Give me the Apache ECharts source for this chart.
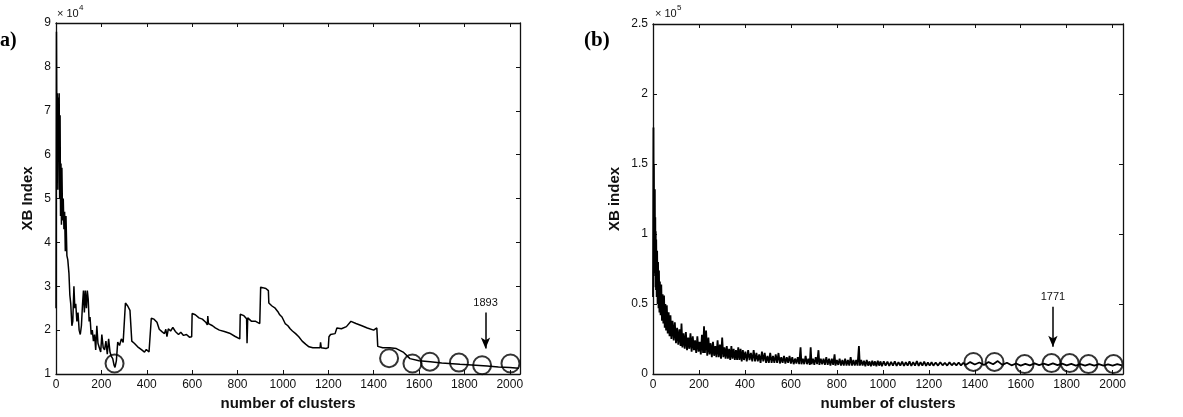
<!DOCTYPE html>
<html lang="en">
  <head>
    <meta charset="UTF-8" />
    <title>XB index vs number of clusters</title>
    <style>
      html, body { margin: 0; padding: 0; background: #fff; }
      #main { width: 1183px; height: 417px; }
    </style>
  </head>
  <body>
    <div id="main"></div>
    <script src="https://cdn.jsdelivr.net/npm/echarts@6/dist/echarts.min.js"></script>
    <script>
    // (a) XB Index, values in units of 10^4
    var xsA = [0, 2, 4, 6, 8, 10, 12, 14, 16, 18, 20, 22, 24, 26, 29, 32, 35, 38, 41, 44, 48, 52, 57, 61, 65, 70, 74, 79, 83, 87,
      92, 97, 102, 107, 112, 117, 121, 125, 129, 134, 138, 142, 146, 150, 155, 160, 165, 170, 175, 180, 185, 191, 197, 202, 208,
      214, 220, 226, 232, 238, 244, 250, 256, 260, 266, 272, 280, 288, 296, 304, 306, 316, 326, 332, 334, 345, 360, 378, 390, 398,
      410, 418, 420, 432, 445, 455, 468, 478, 484, 489, 495, 505, 515, 526, 540, 550, 562, 575, 588, 598, 600, 614, 630, 645, 660,
      667, 669, 672, 690, 702, 720, 742, 765, 788, 810, 812, 828, 840, 842, 845, 862, 880, 898, 902, 925, 936, 938, 952, 966, 978,
      986, 996, 1010, 1022, 1032, 1042, 1056, 1070, 1085, 1100, 1115, 1132, 1150, 1164, 1166, 1169, 1190, 1200, 1203, 1210, 1216,
      1230, 1238, 1258, 1280, 1300, 1322, 1348, 1372, 1400, 1414, 1418, 1440, 1470, 1500, 1530, 1560, 1600, 1650, 1700, 1780,
      1850, 1900, 1950, 2000, 2040];
    var ysA = [2.5, 8.8, 6.0, 7.4, 5.2, 7.3, 6.6, 7.4, 5.0, 6.9, 4.6, 5.8, 4.4, 5.7, 4.5, 5.0, 4.3, 4.7, 3.8, 4.6, 3.7, 3.6, 3.3, 2.8, 2.6, 2.1, 2.2, 3.0, 2.5, 2.6,
      2.2, 2.4, 2.0, 1.9, 2.1, 2.6, 2.9, 2.4, 2.9, 2.5, 2.9, 2.7, 2.2, 2.3, 1.9, 2.0, 1.75, 1.9, 1.55, 2.1, 1.7, 1.6, 1.5, 1.9, 1.6,
      1.55, 1.75, 1.45, 1.8, 1.5, 1.4, 1.35, 1.2, 1.15, 1.3, 1.73, 1.65, 1.8, 1.72, 1.75, 2.62, 2.55, 2.45, 2.42, 1.75, 1.7, 1.62, 1.55, 1.5, 1.56,
      1.5, 1.52, 2.27, 2.25, 2.18, 2.02, 1.96, 1.92, 2.02, 1.85, 2.03, 1.98, 2.06, 1.97, 1.9, 1.95, 1.88, 1.9, 1.84, 1.85, 2.38, 2.35, 2.28, 2.25, 2.18,
      2.12, 2.32, 2.15, 2.1, 2.05, 2.0, 1.97, 1.93, 1.86, 1.8, 2.36, 2.33, 2.26, 1.7, 2.28, 2.2, 2.2, 2.15, 2.98, 2.95, 2.9, 2.62, 2.55, 2.5, 2.42,
      2.35, 2.3, 2.15, 2.1, 2.03, 1.98, 1.92, 1.85, 1.75, 1.68, 1.62, 1.6, 1.6, 1.6, 1.72, 1.6, 1.58, 1.6, 1.85, 1.9, 1.88,
      1.92, 2.05, 2.03, 2.08, 2.2, 2.15, 2.1, 2.05, 2.0, 2.05, 1.63, 1.6, 1.6, 1.58, 1.5, 1.35, 1.3, 1.28, 1.25, 1.22,
      1.2, 1.18, 1.16, 1.15, 1.13];
    var circleXA = [258, 1468, 1571, 1648, 1776, 1878, 2003];
    var circleYA = [1.24, 1.36, 1.24, 1.28, 1.26, 1.2, 1.24];
    var pickA = 1893;

    // (b) XB index, values in units of 10^5
    var xsB = [0, 2, 3, 4, 5, 6, 7, 8, 9, 10, 11, 12, 13, 14, 16, 18, 20, 22, 24, 26, 28, 30, 33, 36, 39, 42, 45, 48, 51, 54, 57, 60,
      64, 68, 72, 76, 80, 85, 90, 95, 100, 105, 110, 115, 120, 124, 128, 133, 138, 143, 148, 153, 158, 163, 168, 173, 178, 183, 188,
      193, 198, 203, 208, 213, 218, 222, 226, 231, 236, 241, 246, 251, 256, 261, 266, 271, 276, 281, 286, 291, 296, 301, 306, 311,
      316, 321, 326, 331, 336, 341, 346, 351, 356, 361, 366, 371, 376, 381, 386, 391, 396, 402, 408, 414, 420, 426, 432, 438, 444,
      450, 456, 462, 468, 474, 480, 486, 492, 498, 504, 510, 516, 522, 528, 534, 540, 546, 552, 558, 564, 570, 576, 582, 588, 594,
      600, 606, 612, 618, 624, 630, 636, 642, 646, 652, 658, 664, 670, 676, 682, 686, 690, 696, 702, 708, 714, 720, 724, 730, 736,
      742, 748, 754, 760, 766, 772, 778, 784, 790, 794, 800, 806, 812, 818, 824, 830, 836, 842, 848, 854, 860, 866, 872, 878, 884,
      890, 896, 900, 906, 912, 918, 924, 930, 936, 942, 948, 954, 960, 966, 972, 978, 984, 990, 996, 1004, 1012, 1020, 1028, 1036,
      1044, 1052, 1060, 1068, 1076, 1084, 1092, 1100, 1108, 1116, 1124, 1132, 1140, 1148, 1156, 1164, 1172, 1180, 1188, 1196, 1204,
      1212, 1220, 1230, 1240, 1250, 1260, 1270, 1280, 1290, 1300, 1310, 1320, 1330, 1340, 1350, 1360, 1380, 1400, 1420, 1440, 1460,
      1480, 1500, 1520, 1540, 1560, 1580, 1600, 1620, 1640, 1660, 1680, 1700, 1720, 1740, 1760, 1780, 1800, 1820, 1840, 1860, 1880,
      1900, 1920, 1940, 1960, 1980, 2000, 2020, 2040];
    var ysB = [0.55, 1.76, 0.85, 1.5, 0.8, 1.26, 0.72, 1.32, 0.7, 1.12, 0.62, 1.02, 0.6, 0.96, 0.55, 0.88, 0.5, 0.8, 0.47, 0.74, 0.44, 0.66, 0.42, 0.64, 0.38, 0.57, 0.36, 0.56, 0.33, 0.5, 0.31, 0.49,
      0.29, 0.44, 0.27, 0.42, 0.25, 0.38, 0.24, 0.37, 0.22, 0.33, 0.21, 0.32, 0.2, 0.36, 0.19, 0.29, 0.18, 0.3, 0.17, 0.26, 0.18, 0.29, 0.16, 0.27, 0.17, 0.24, 0.15,
      0.27, 0.16, 0.23, 0.14, 0.28, 0.15, 0.34, 0.15, 0.31, 0.13, 0.26, 0.14, 0.22, 0.12, 0.23, 0.13, 0.2, 0.12, 0.24, 0.12, 0.21, 0.11, 0.26, 0.12, 0.19,
      0.11, 0.2, 0.11, 0.18, 0.1, 0.2, 0.11, 0.18, 0.1, 0.17, 0.1, 0.19, 0.1, 0.18, 0.09, 0.17, 0.1, 0.16, 0.09, 0.17, 0.1, 0.15, 0.09, 0.17, 0.09,
      0.15, 0.09, 0.14, 0.08, 0.16, 0.09, 0.15, 0.08, 0.13, 0.08, 0.15, 0.08, 0.13, 0.08, 0.14, 0.08, 0.15, 0.075, 0.12, 0.08, 0.13, 0.075, 0.12, 0.08, 0.13,
      0.075, 0.12, 0.07, 0.11, 0.075, 0.12, 0.07, 0.19, 0.07, 0.11, 0.07, 0.13, 0.07, 0.11, 0.065, 0.19, 0.07, 0.11, 0.065, 0.12, 0.07, 0.17, 0.065, 0.11, 0.07,
      0.11, 0.065, 0.12, 0.065, 0.11, 0.06, 0.11, 0.065, 0.14, 0.06, 0.1, 0.065, 0.11, 0.06, 0.1, 0.06, 0.11, 0.06, 0.1, 0.06, 0.12, 0.06, 0.1, 0.06, 0.1,
      0.06, 0.2, 0.06, 0.1, 0.06, 0.095, 0.055, 0.1, 0.06, 0.09, 0.055, 0.095, 0.06, 0.09, 0.055, 0.095, 0.06, 0.09, 0.055, 0.09, 0.06, 0.088, 0.058, 0.086,
      0.06, 0.09, 0.058, 0.085, 0.06, 0.088, 0.058, 0.084, 0.06, 0.09, 0.058, 0.085, 0.06, 0.092, 0.058, 0.085, 0.06, 0.088, 0.058, 0.082, 0.06,
      0.085, 0.06, 0.082, 0.06, 0.084, 0.062, 0.08, 0.06, 0.083, 0.062, 0.08, 0.062, 0.082, 0.062, 0.08, 0.065, 0.085, 0.068, 0.082, 0.065, 0.085,
      0.07, 0.092, 0.065, 0.08, 0.062, 0.075, 0.06, 0.072, 0.062, 0.076, 0.064, 0.074, 0.064, 0.076, 0.064, 0.074, 0.062, 0.072, 0.06, 0.07, 0.06,
      0.07, 0.06, 0.07, 0.06, 0.068, 0.06, 0.07, 0.062];
    var circleXB = [1394, 1486, 1617, 1734, 1813, 1895, 2004];
    var circleYB = [0.086, 0.086, 0.071, 0.078, 0.078, 0.071, 0.071];
    var pickB = 1740;
    var pickBLabel = '1771';

    var xTicks = [0, 200, 400, 600, 800, 1000, 1200, 1400, 1600, 1800, 2000];

    function pairs(xs, ys) {
      var out = [];
      for (var i = 0; i < xs.length; i++) out.push([xs[i], ys[i]]);
      return out;
    }

    var font = 'Liberation Sans, Arial, sans-serif';
    var ink = '#111';

    function xAxisFor(grid, top) {
      return {
        gridIndex: grid, type: 'value', min: 0, max: 2045, interval: 200,
        position: top ? 'top' : 'bottom',
        name: top ? '' : 'number of clusters',
        nameLocation: 'middle', nameGap: 22,
        nameTextStyle: { fontFamily: font, fontWeight: 'bold', fontSize: 15, color: ink },
        axisLine: { onZero: false, lineStyle: { color: ink, width: 1.3 } },
        axisTick: { inside: true, length: 4, lineStyle: { color: ink } },
        axisLabel: {
          show: !top, showMaxLabel: false, margin: 5,
          fontFamily: font, fontSize: 12, color: ink,
          formatter: function (v) { return xTicks.indexOf(v) >= 0 ? String(v) : ''; }
        },
        splitLine: { show: false }
      };
    }

    function yAxisFor(grid, right, min, max, step, name, gap) {
      return {
        gridIndex: grid, type: 'value', min: min, max: max, interval: step,
        position: right ? 'right' : 'left',
        name: right ? '' : name,
        nameLocation: 'middle', nameGap: gap,
        nameTextStyle: { fontFamily: font, fontWeight: 'bold', fontSize: 15, color: ink },
        axisLine: { onZero: false, lineStyle: { color: ink, width: 1.3 } },
        axisTick: { inside: true, length: 4, lineStyle: { color: ink } },
        axisLabel: { show: !right, margin: 5, fontFamily: font, fontSize: 12, color: ink },
        splitLine: { show: false }
      };
    }

    function circles(xs, ys, grid) {
      return {
        type: 'scatter', xAxisIndex: grid * 2, yAxisIndex: grid * 2,
        data: pairs(xs, ys), symbol: 'circle', symbolSize: 18, z: 4,
        itemStyle: { color: 'rgba(0,0,0,0)', borderColor: '#000', borderWidth: 2 },
        silent: true
      };
    }

    function arrow(x, y0, y1, text) {
      return {
        silent: true, symbol: ['none', 'arrow'], symbolSize: [7, 11],
        lineStyle: { color: '#000', width: 1.5, type: 'solid' },
        label: { show: true, position: 'start', formatter: text, fontFamily: font, fontSize: 11, color: ink, distance: 4 },
        data: [[{ coord: [x, y0] }, { coord: [x, y1] }]]
      };
    }

    var myChart = echarts.init(document.getElementById('main'));
    var option = {
      backgroundColor: '#fff',
      animation: false,
      grid: [
        { left: 56, top: 23, width: 464, height: 351 },
        { left: 653, top: 24, width: 470, height: 350 }
      ],
      xAxis: [xAxisFor(0, false), xAxisFor(0, true), xAxisFor(1, false), xAxisFor(1, true)],
      yAxis: [
        yAxisFor(0, false, 1, 9, 1, 'XB Index', 21),
        yAxisFor(0, true, 1, 9, 1, '', 0),
        yAxisFor(1, false, 0, 2.5, 0.5, 'XB index', 31),
        yAxisFor(1, true, 0, 2.5, 0.5, '', 0)
      ],
      series: [
        {
          type: 'line', xAxisIndex: 0, yAxisIndex: 0, data: pairs(xsA, ysA),
          showSymbol: false, lineStyle: { color: '#000', width: 1.5 },
          markLine: arrow(pickA, 2.4, 1.58, String(pickA))
        },
        circles(circleXA, circleYA, 0),
        {
          type: 'line', xAxisIndex: 2, yAxisIndex: 2, data: pairs(xsB, ysB),
          showSymbol: false, lineStyle: { color: '#000', width: 1.8 },
          markLine: arrow(pickB, 0.48, 0.195, pickBLabel)
        },
        circles(circleXB, circleYB, 1)
      ],
      graphic: [
        { type: 'text', left: 0, top: 31, style: { text: 'a)', font: 'bold 20px "Liberation Serif", serif', fill: '#000' } },
        { type: 'text', left: 584, top: 30, style: { text: '(b)', font: 'bold 21px "Liberation Serif", serif', fill: '#000' } },
        { type: 'text', left: 57, top: 8, style: { text: '× 10', font: '11px "Liberation Sans", sans-serif', fill: ink } },
        { type: 'text', left: 79, top: 4, style: { text: '4', font: '8px "Liberation Sans", sans-serif', fill: ink } },
        { type: 'text', left: 655, top: 8, style: { text: '× 10', font: '11px "Liberation Sans", sans-serif', fill: ink } },
        { type: 'text', left: 677, top: 4, style: { text: '5', font: '8px "Liberation Sans", sans-serif', fill: ink } }
      ]
    };
    myChart.setOption(option);
    </script>
  </body>
</html>
